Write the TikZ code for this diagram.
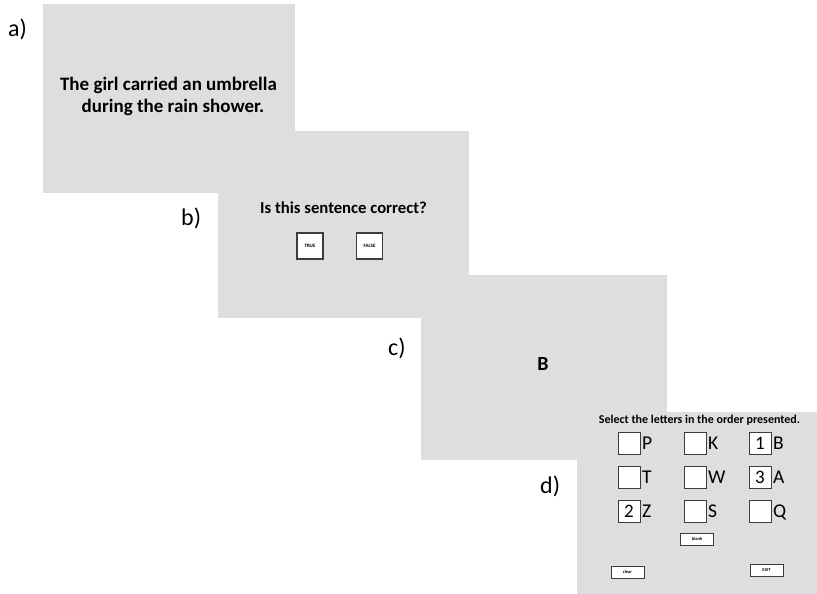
\documentclass[tikz,border=0pt]{standalone}
\usepackage{fontspec}
\setmainfont{Carlito}
\definecolor{screengray}{RGB}{222,222,222}
\definecolor{rim}{RGB}{60,60,60}
\begin{document}
\begin{tikzpicture}[x=1pt,y=-1pt,
    screen/.style={fill=screengray},
    tag/.style={anchor=base west,inner sep=0pt,font=\fontsize{24}{28}\selectfont},
    cue/.style={anchor=base,inner sep=0pt,font=\bfseries\fontsize{19}{22}\selectfont},
    btn/.style={draw=rim,line width=1.2pt,fill=white,minimum width=26pt,minimum height=26pt,inner sep=0pt,font=\bfseries\fontsize{5}{6}\selectfont},
    cell/.style={draw=rim,line width=0.9pt,fill=white,minimum width=22pt,minimum height=22pt,inner sep=0pt,text height=12.5pt,text depth=0pt,font=\fontsize{19}{22}\selectfont},
    letterlbl/.style={anchor=west,inner sep=1.5pt,text height=12.5pt,text depth=0pt,font=\fontsize{19.5}{22}\selectfont},
    smallbtn/.style={draw=rim,line width=1pt,fill=white,minimum width=33pt,minimum height=12pt,inner sep=0pt,font=\bfseries\fontsize{4.5}{5}\selectfont}]
    \useasboundingbox (0,0) rectangle (817,594);
    % the four screens
    \fill[screen] (43,4) rectangle (295,193);
    \fill[screen] (218,131) rectangle (469,318);
    \fill[screen] (421,275) rectangle (667,460);
    \fill[screen] (577,412) rectangle (817,594);
    % panel labels
    \node[tag] (la) at (8,37) {a)};
    \node[tag] (lb) at (181,225) {b)};
    \node[tag] (lc) at (388,355) {c)};
    \node[tag] (ld) at (540,493) {d)};
    % a) sentence
    \node[cue] (sent1) at (168.5,91) {The girl carried an umbrella};
    \node[cue] (sent2) at (173,112) {during the rain shower.};
    % b) judgement
    \node[cue,font=\bfseries\fontsize{16.7}{20}\selectfont] (ask) at (343.5,213) {Is this sentence correct?};
    \node[btn] (true) at (310,246) {TRUE};
    \node[btn] (false) at (369.5,246) {FALSE};
    % c) letter
    \node[cue,font=\bfseries\fontsize{20}{24}\selectfont] (shown) at (543,370) {B};
    % d) recall grid
    \node[cue,font=\bfseries\fontsize{12}{14}\selectfont] (title) at (699.5,423) {Select the letters in the order presented.};
    \node[cell] (c11) at (629,443) {};
    \node[letterlbl] at (c11.east) {P};
    \node[cell] (c12) at (695,443) {};
    \node[letterlbl] at (c12.east) {K};
    \node[cell] (c13) at (760,443) {1};
    \node[letterlbl] at (c13.east) {B};
    \node[cell] (c21) at (629,477) {};
    \node[letterlbl] at (c21.east) {T};
    \node[cell] (c22) at (695,477) {};
    \node[letterlbl] at (c22.east) {W};
    \node[cell] (c23) at (760,477) {3};
    \node[letterlbl] at (c23.east) {A};
    \node[cell] (c31) at (629,511) {2};
    \node[letterlbl] at (c31.east) {Z};
    \node[cell] (c32) at (695,511) {};
    \node[letterlbl] at (c32.east) {S};
    \node[cell] (c33) at (760,511) {};
    \node[letterlbl] at (c33.east) {Q};
    \node[smallbtn] (blank) at (697,539) {blank};
    \node[smallbtn] (clear) at (627.5,572) {clear};
    \node[smallbtn] (exit) at (766.5,570) {EXIT};
\end{tikzpicture}
\end{document}
